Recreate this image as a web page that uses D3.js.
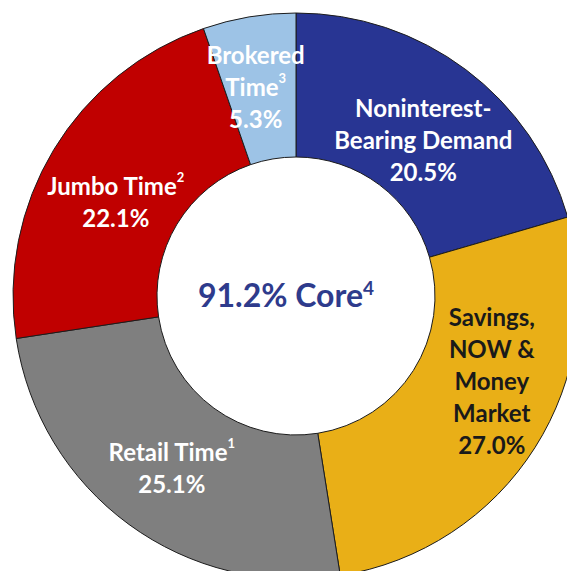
<!DOCTYPE html>
<html>
<head>
<meta charset="utf-8">
<script src="https://cdn.jsdelivr.net/npm/d3@7"></script>
<style>
  body { margin: 0; background: #fff; }
  text { font-family: Lato, "Open Sans", sans-serif; font-weight: bold; }
</style>
</head>
<body>
<div id="donut"></div>
<script>
// deposit mix, clockwise from 12 o'clock
const categories = ['Noninterest-Bearing Demand', 'Savings, NOW & Money Market', 'Retail Time', 'Jumbo Time', 'Brokered Time'];
const shares = [20.5, 27.0, 25.1, 22.1, 5.3];
// label lines, [text, superscript]
const labelLines = [
  [['Noninterest-', ''], ['Bearing Demand', '']],
  [['Savings,', ''], ['NOW &', ''], ['Money', ''], ['Market', '']],
  [['Retail Time', '1']],
  [['Jumbo Time', '2']],
  [['Brokered', ''], ['Time', '3']]
];
const coreLabel = '91.2% Core';
const coreNote = '4';

const colors = ['#283593', '#e9af17', '#7f7f7f', '#c00000', '#9dc3e6'];
const textColors = ['#fff', '#1a1a1a', '#fff', '#fff', '#fff'];
// small nudges from the label arc so the text sits like the original
const nudge = [[3, 12], [21, -23], [-2, 8], [-3, 16], [-6, -2]];

const width = 567, height = 571;
const cx = 296, cy = 296;
const outerR = 283, innerR = 139;

const svg = d3.select('#donut')
  .append('svg')
  .attr('width', width)
  .attr('height', height);

const g = svg.append('g').attr('transform', `translate(${cx},${cy})`);

const data = categories.map((c, i) => ({ name: c, value: shares[i], i: i }));

const pie = d3.pie().sort(null).value(d => d.value);
const arc = d3.arc().innerRadius(innerR).outerRadius(outerR);
const labelArc = d3.arc().innerRadius(207).outerRadius(207);

const arcs = pie(data);

g.selectAll('path.slice')
  .data(arcs)
  .enter()
  .append('path')
  .attr('class', 'slice')
  .attr('d', arc)
  .attr('fill', d => colors[d.data.i])
  .attr('stroke', '#1c1c1c')
  .attr('stroke-width', 1);

const fontSize = 24, lineH = 32;

arcs.forEach(d => {
  const i = d.data.i;
  const [x, y] = labelArc.centroid(d);
  const lines = labelLines[i].concat([[d.data.value.toFixed(1) + '%', '']]);
  const top = y + nudge[i][1] - (lines.length - 1) * lineH / 2;
  const t = g.append('text')
    .attr('text-anchor', 'middle')
    .attr('fill', textColors[i])
    .attr('font-size', fontSize);
  lines.forEach((ln, k) => {
    t.append('tspan')
      .attr('x', x + nudge[i][0])
      .attr('y', top + k * lineH)
      .attr('dominant-baseline', 'middle')
      .text(ln[0]);
    if (ln[1]) {
      t.append('tspan')
        .attr('dy', -7)
        .attr('font-size', 13)
        .text(ln[1]);
    }
  });
});

// centre label
const core = g.append('text')
  .attr('text-anchor', 'middle')
  .attr('fill', '#2e3b8c')
  .attr('font-size', 32)
  .attr('x', -10)
  .attr('y', 11);
core.append('tspan').text(coreLabel);
core.append('tspan').attr('dy', -12).attr('font-size', 19).text(coreNote);
</script>
</body>
</html>
